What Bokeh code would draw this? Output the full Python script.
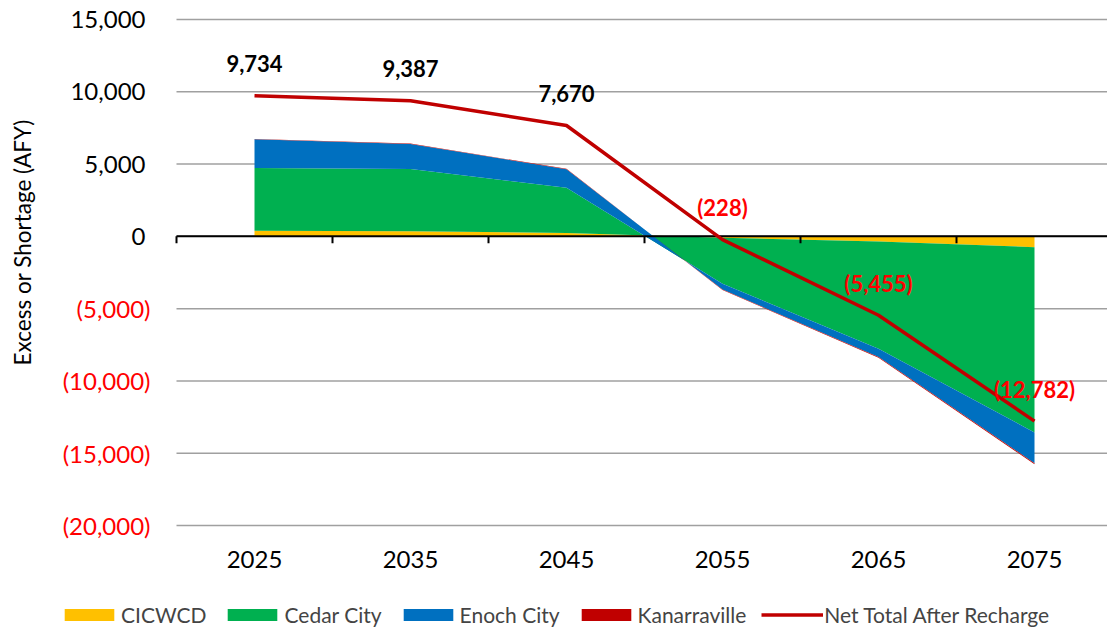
from math import pi

from bokeh.core.properties import value
from bokeh.embed import file_html
from bokeh.models import ColumnDataSource, Legend, LegendItem, Range1d
from bokeh.plotting import figure
from bokeh.resources import INLINE

# ---- data (acre-feet per year) ----
years = ["2025", "2035", "2045", "2055", "2065", "2075"]
cicwcd = [380, 360, 240, -100, -350, -750]
cedar_city = [4350, 4300, 3130, -3180, -7420, -12810]
enoch_city = [1980, 1730, 1270, -400, -580, -2130]
kanarraville = [30, 30, 30, -30, -50, -70]
net_total = [9734, 9387, 7670, -228, -5455, -12782]
y_ticks = [-20000, -15000, -10000, -5000, 0, 5000, 10000, 15000]

series_names = ["CICWCD", "Cedar City", "Enoch City", "Kanarraville"]
series_colors = ["#FFC000", "#00B050", "#0070C0", "#C00000"]
NET_COLOR = "#C00000"
NEG_COLOR = "#FF0000"
GRID_COLOR = "#A0A0A0"
FONT = "Lato"

# ---- page geometry (pixels) ----
W, H = 1107, 628
AREA_LEFT, AREA_RIGHT = 176, 1112   # plot area spans six category slots
AREA_TOP, AREA_BOTTOM = 19, 525     # top / bottom gridlines

n = len(years)
y_lo, y_hi = min(y_ticks), max(y_ticks)
x_per_px = n / (AREA_RIGHT - AREA_LEFT)
y_per_px = (y_hi - y_lo) / (AREA_BOTTOM - AREA_TOP)
x_range = Range1d(-AREA_LEFT * x_per_px, (W - AREA_LEFT) * x_per_px)
y_range = Range1d(y_lo - (H - AREA_BOTTOM) * y_per_px,
                  y_hi + AREA_TOP * y_per_px)


def fmt(v):
    return f"({abs(v):,})" if v < 0 else f"{v:,}"


# category centres sit at i + 0.5, category boundaries at integers
xc = [i + 0.5 for i in range(n)]
bounds = list(range(n + 1))
x_end = n

src = ColumnDataSource(dict(
    x=xc,
    cicwcd=cicwcd,
    cedar=cedar_city,
    enoch=enoch_city,
    kanarraville=kanarraville,
    net=net_total,
    net_label=[fmt(v) for v in net_total],
    net_color=["black" if v >= 0 else NEG_COLOR for v in net_total],
    year=years,
    base=[y_lo] * n,
))

p = figure(
    width=W, height=H, x_range=x_range, y_range=y_range,
    x_axis_location=None, y_axis_location=None,
    output_backend="svg", toolbar_location=None,
    min_border=0, min_border_left=0, min_border_right=0,
    min_border_top=0, min_border_bottom=0,
)
p.outline_line_color = None
p.background_fill_color = "white"
p.border_fill_color = "white"
p.grid.visible = False

# horizontal gridlines across the plot area
p.segment(x0=[0] * len(y_ticks), x1=[x_end] * len(y_ticks),
          y0=y_ticks, y1=y_ticks, line_color=GRID_COLOR, line_width=1.5)

# stacked areas
areas = p.varea_stack(
    stackers=["cicwcd", "cedar", "enoch", "kanarraville"],
    x="x", color=series_colors, source=src,
)

# category axis on the zero line, tick marks between categories
p.segment(x0=[0], x1=[x_end], y0=[0], y1=[0], line_color="black",
          line_width=2)
p.segment(x0=bounds, y0=[0] * len(bounds), x1=bounds,
          y1=[-7 * y_per_px] * len(bounds), line_color="black",
          line_width=2)

# year labels below the plot area
p.text("x", "base", text="year", source=src, text_color="black",
       text_font=value(FONT), text_font_size="24px",
       text_align="center", text_baseline="middle", y_offset=34)

# net total line and its value labels
net = p.line("x", "net", source=src, line_color=NET_COLOR, line_width=3.5)
p.text("x", "net", text="net_label", source=src, text_color="net_color",
       text_font=value(FONT), text_font_size="22px", text_font_style="bold",
       text_align="center", text_baseline="middle", y_offset=-32)

# y tick labels: black for excess, red in parentheses for shortage
pos_ticks = [t for t in y_ticks if t >= 0]
neg_ticks = [t for t in y_ticks if t < 0]
p.text(x=[0] * len(pos_ticks), y=pos_ticks, text=[fmt(t) for t in pos_ticks],
       text_color="black", text_font=value(FONT), text_font_size="24px",
       text_align="right", text_baseline="middle", x_offset=-31)
p.text(x=[0] * len(neg_ticks), y=neg_ticks, text=[fmt(t) for t in neg_ticks],
       text_color=NEG_COLOR, text_font=value(FONT), text_font_size="24px",
       text_align="right", text_baseline="middle", x_offset=-26)

# axis title
p.text(x=[0], y=[0], text=["Excess or Shortage (AFY)"], angle=pi / 2,
       text_color="black", text_font=value(FONT), text_font_size="22.5px",
       text_align="center", text_baseline="middle",
       x_offset=-154, y_offset=6)

items = [LegendItem(label=nm, renderers=[r]) for nm, r in zip(series_names, areas)]
items.append(LegendItem(label="Net Total After Recharge", renderers=[net]))
legend = Legend(
    items=items, orientation="horizontal", location=(58, 1),
    glyph_width=62, glyph_height=15, label_standoff=1, spacing=15,
    padding=2, margin=0, border_line_color=None, background_fill_alpha=0,
    label_text_font=FONT, label_text_font_size="21px",
)
p.add_layout(legend, "center")

open("out.html", "w").write(file_html(p, INLINE))
